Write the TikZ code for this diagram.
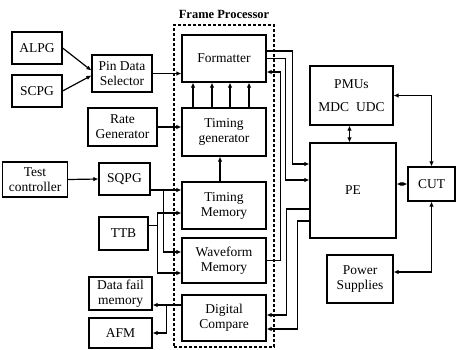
\documentclass[tikz,border=0pt]{standalone}
\usepackage{fontspec}
\setmainfont{Liberation Serif}
\usetikzlibrary{arrows.meta}

\begin{document}
\begin{tikzpicture}[x=1pt, y=-1pt,
	blk/.style={draw, line width=1.2pt, align=center, inner sep=0pt, font=\fontsize{13.5}{15}\selectfont},
	arr/.style={-{Latex[length=5pt,width=4.5pt]}, line width=1.2pt},
	arrb/.style={{Latex[length=5pt,width=4.5pt]}-{Latex[length=5pt,width=4.5pt]}, line width=1.2pt}]
	    \useasboundingbox (0,0) rectangle (456,349);

	    % frame processor
	    \node[draw, dash pattern=on 3pt off 2pt, line width=1.2pt, minimum width=100pt, minimum height=322pt, inner sep=0pt] (frame) at (224,186) {};
	    \node[font=\bfseries\fontsize{12.5}{14}\selectfont] (fplbl) at (224,14) {Frame Processor};
	    \node[blk, minimum width=84pt, minimum height=47pt] (fmt) at (224,58.5) {Formatter};
	    \node[blk, minimum width=84pt, minimum height=48pt] (tgen) at (224,132) {Timing\\generator};
	    \node[blk, minimum width=84pt, minimum height=47pt] (tmem) at (224,205.5) {Timing\\Memory};
	    \node[blk, minimum width=84pt, minimum height=45pt] (wmem) at (224,260.5) {Waveform\\Memory};
	    \node[blk, minimum width=84pt, minimum height=46pt] (dcmp) at (224,318) {Digital\\Compare};

	    % left side
	    \node[blk, minimum width=50pt, minimum height=32pt] (alpg) at (37,48) {ALPG};
	    \node[blk, minimum width=50pt, minimum height=32pt] (scpg) at (37,91) {SCPG};
	    \node[blk, minimum width=60pt, minimum height=37pt] (pin) at (122,73.5) {Pin Data\\Selector};
	    \node[blk, minimum width=69pt, minimum height=38pt] (rate) at (122.5,127) {Rate\\Generator};
	    \node[blk, minimum width=65pt, minimum height=35pt] (test) at (35,179.5) {Test\\controller};
	    \node[blk, minimum width=51pt, minimum height=32pt] (sqpg) at (124.5,179) {SQPG};
	    \node[blk, minimum width=49pt, minimum height=33pt] (ttb) at (123.5,233.5) {TTB};
	    \node[blk, minimum width=63pt, minimum height=33pt] (dfm) at (120.5,293.5) {Data fail\\memory};
	    \node[blk, minimum width=63pt, minimum height=30pt] (afm) at (120.5,333) {AFM};

	    % right side
	    \node[blk, minimum width=83pt, minimum height=59pt] (pmu) at (351.5,95.5) {PMUs\\[8pt]MDC\hspace{7pt}UDC};
	    \node[blk, minimum width=86pt, minimum height=95pt] (pe) at (353,190.5) {PE};
	    \node[blk, minimum width=47pt, minimum height=34pt] (cut) at (431.5,184) {CUT};
	    \node[blk, minimum width=66pt, minimum height=48pt] (pwr) at (360,279) {Power\\Supplies};

	    \draw[arr] (alpg.east) -- ([yshift=3pt]pin.west);
	    \draw[arr] (scpg.east) -- ([yshift=-2pt]pin.west);
	    \draw[arr] (pin.east) -- (pin.east -| fmt.west);
	    \draw[arr] (rate.east) -- (rate.east -| tgen.west);
	    \foreach \dx in {-31,-12,6,25}
		\draw[arr] ([xshift=\dx pt]tgen.north) -- ([xshift=\dx pt]fmt.south);
	    \draw[arr] ([xshift=-4pt]tmem.north) -- ([xshift=-4pt]tgen.south);

	    \draw[arr] (test.east) -- (sqpg.west);
	    \coordinate (sq) at ([yshift=-11pt]sqpg.east);
	    \draw[arr] (sq) -- (sq -| tmem.west);
	    \draw[arr] ([xshift=13pt]sq) |- ([yshift=8.5pt]wmem.west);
	    \coordinate (tb) at ([yshift=8.5pt]ttb.east);
	    \draw (tb) -- ++(9,0) coordinate (tbj);
	    \draw[arr] (tbj) |- ([yshift=-7.5pt]tmem.west);
	    \draw[arr] (tbj) |- ([yshift=-12.5pt]wmem.west);

	    \coordinate (dc) at ([yshift=13pt]dcmp.west);
	    \draw[arr] (dc) -- (dc -| dfm.east);
	    \draw[arr] ([xshift=-15pt]dc) |- (afm.east);

	    \draw[arr] ([yshift=7.5pt]fmt.east) -- ++(26,0) |- ([yshift=26.5pt]pe.west);
	    \draw[arr] (fmt.east) -- ++(19,0) |- ([yshift=10.5pt]pe.west);
	    \draw[arr] (wmem.east) -- ++(14,0) |- ([yshift=-13.5pt]fmt.east);
	    \draw[arr] ([yshift=-18.5pt]pe.west) -- ++(-23,0) |- ([yshift=3pt]dcmp.east);
	    \draw[arr] ([yshift=-30.5pt]pe.west) -- ++(-12,0) |- ([yshift=-11pt]dcmp.east);

	    \draw[arrb] ([xshift=-2pt]pmu.south) -- ([xshift=-2pt]pmu.south |- pe.north);
	    \draw[arrb] (pe.east |- cut.west) -- (cut.west);
	    \draw[arrb] (pmu.east) -| (cut.north);
	    \draw[arrb] (cut.south) |- ([yshift=7pt]pwr.east);
	\end{tikzpicture}
\end{document}
